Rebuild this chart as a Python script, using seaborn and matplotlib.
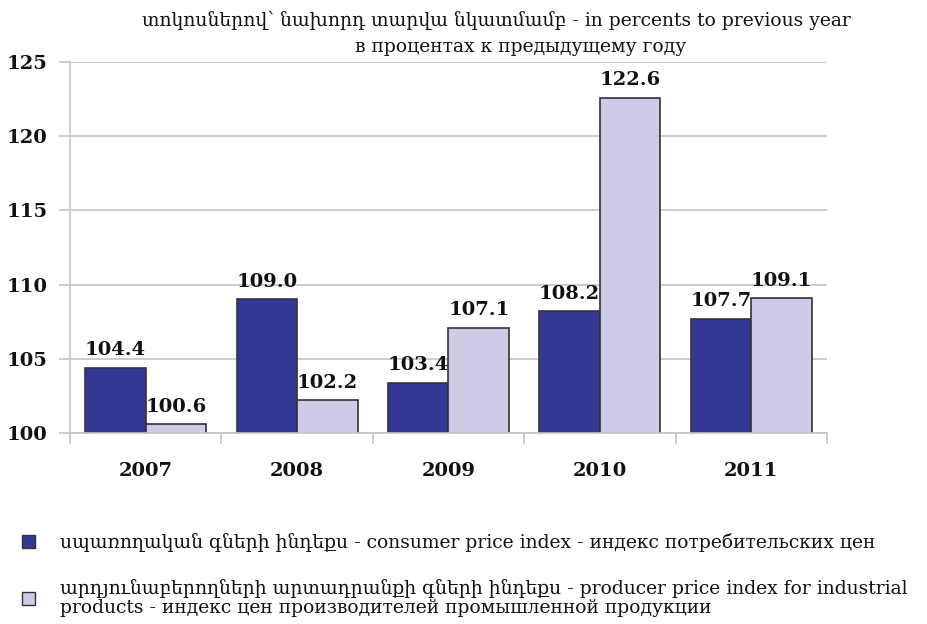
import matplotlib
matplotlib.use('Agg')
import matplotlib.pyplot as plt
import seaborn as sns
import pandas as pd
from matplotlib.patches import Patch

years = ['2007', '2008', '2009', '2010', '2011']
consumer = [104.4, 109.0, 103.4, 108.2, 107.7]
producer = [100.6, 102.2, 107.1, 122.6, 109.1]
series_names = [
    'սպառողական գների ինդեքս - consumer price index - индекс потребительских цен',
    'արդյունաբերողների արտադրանքի գների ինդեքս - producer price index for industrial\nproducts - индекс цен производителей промышленной продукции',
]
title1 = 'տոկոսներով՝ նախորդ տարվա նկատմամբ - in percents to previous year'
title2 = 'в процентах к предыдущему году'
yticks = [100, 105, 110, 115, 120, 125]

c_dark = '#343894'
c_light = '#CDCBE6'
edge = '#333333'
grid_c = '#C4C4C4'
txt_c = '#111111'

sns.set_theme(style='white')
plt.rcParams['font.family'] = ['DejaVu Serif', 'DejaVu Sans']

df = pd.DataFrame({
    'year': years * 2,
    'value': consumer + producer,
    'series': [series_names[0]] * len(years) + [series_names[1]] * len(years),
})

fig = plt.figure(figsize=(9.28, 6.24), dpi=100)
ax = fig.add_axes([70 / 928, 1 - 433 / 624, (827 - 70) / 928, (433 - 62) / 624])

sns.barplot(data=df, x='year', y='value', hue='series', palette=[c_dark, c_light],
            width=0.8, edgecolor=edge, linewidth=1.2, saturation=1, ax=ax, legend=False)

for cont in ax.containers:
    ax.bar_label(cont, fmt='%.1f', padding=6, fontsize=14, fontweight='bold', color=txt_c)

ax.set_ylim(100, 125)
ax.set_yticks(yticks)
ax.set_xlim(-0.5, len(years) - 0.5)
ax.set_xlabel('')
ax.set_ylabel('')
ax.yaxis.grid(True, color=grid_c, lw=1.2)
ax.set_axisbelow(True)
for s in ['top', 'right']:
    ax.spines[s].set_visible(False)
for s in ['left', 'bottom']:
    ax.spines[s].set_color(grid_c)
    ax.spines[s].set_linewidth(1.2)

ax.set_xticks([i - 0.5 for i in range(len(years) + 1)], minor=True)
ax.tick_params(axis='x', which='minor', length=8, color=grid_c, width=1.2, bottom=True)
ax.tick_params(axis='x', which='major', length=0, pad=21, labelsize=14)
ax.tick_params(axis='y', which='major', length=8, color=grid_c, width=1.2, left=True, pad=8, labelsize=14)
for lab in ax.get_xticklabels() + ax.get_yticklabels():
    lab.set_fontweight('bold')
    lab.set_color(txt_c)

fig.text(496 / 928, 1 - 20 / 624, title1, ha='center', va='center', fontsize=13.5, color=txt_c)
fig.text(521 / 928, 1 - 47 / 624, title2, ha='center', va='center', fontsize=13.5, color=txt_c)

handles = [Patch(facecolor=c_dark, edgecolor=edge), Patch(facecolor=c_light, edgecolor=edge)]
leg = fig.legend(handles=handles, labels=series_names, loc='upper left',
                 bbox_to_anchor=(22 / 928, 1 - 533 / 624), frameon=False, fontsize=13.5,
                 borderpad=0, borderaxespad=0,
                 handlelength=0.7, handleheight=0.7, handletextpad=1.3, labelspacing=1.45)
for t in leg.get_texts():
    t.set_linespacing(1.05)
    t.set_color(txt_c)

fig.savefig('out.png', dpi=100)
